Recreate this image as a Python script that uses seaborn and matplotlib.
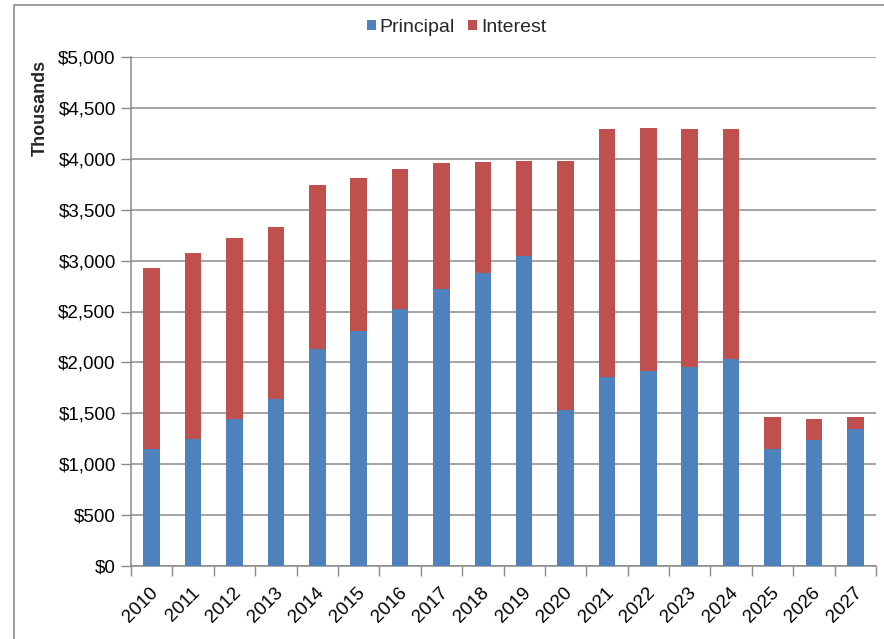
import matplotlib
matplotlib.use("Agg")
import matplotlib.pyplot as plt
from matplotlib.patches import Rectangle, Patch
from matplotlib.ticker import FuncFormatter, FixedLocator
from matplotlib.transforms import ScaledTranslation
import seaborn as sns
import pandas as pd

# Annual debt service, in thousands of dollars
years = ["2010", "2011", "2012", "2013", "2014", "2015", "2016", "2017", "2018",
         "2019", "2020", "2021", "2022", "2023", "2024", "2025", "2026", "2027"]
principal = [1146, 1244, 1441, 1640, 2132, 2308, 2525, 2721, 2878,
             3048, 1536, 1857, 1912, 1958, 2033, 1146, 1241, 1346]
interest = [1778, 1831, 1778, 1690, 1607, 1500, 1375, 1238, 1091,
            930, 2442, 2436, 2391, 2335, 2260, 314, 206, 114]

blue = "#4F81BD"
red = "#C0504D"
grid_gray = "#8A8A8A"

df = pd.DataFrame({"year": years, "principal": principal, "interest": interest})
df["total"] = df["principal"] + df["interest"]

sns.set_theme(style="white")
plt.rcParams["font.family"] = ["Liberation Sans", "DejaVu Sans"]

fig = plt.figure(figsize=(8.84, 6.39), dpi=100)
ax = fig.add_axes([131 / 884, 73 / 639, 745 / 884, 509 / 639])

# Stacked bars: full height in red, principal drawn over it in blue
sns.barplot(data=df, x="year", y="total", color=red, width=0.4, saturation=1,
            ax=ax, zorder=3, linewidth=0)
sns.barplot(data=df, x="year", y="principal", color=blue, width=0.4, saturation=1,
            ax=ax, zorder=4, linewidth=0)

ax.set_xlim(-0.5, len(years) - 0.5)
ax.set_ylim(0, 5000)
ax.set_yticks(range(0, 5001, 500))
ax.yaxis.set_major_formatter(FuncFormatter(lambda v, p: f"${v:,.0f}"))
ax.yaxis.grid(True, color=grid_gray, linewidth=1.1, zorder=0)
ax.set_axisbelow(True)

for side in ["top", "right"]:
    ax.spines[side].set_visible(False)
for side in ["left", "bottom"]:
    ax.spines[side].set_color(grid_gray)
    ax.spines[side].set_linewidth(1.1)

ax.tick_params(axis="y", which="major", left=True, length=7, width=1, color=grid_gray,
               labelsize=13.5, pad=4, labelcolor="black")
ax.tick_params(axis="x", which="major", bottom=False, length=0, labelsize=13.5,
               pad=13, labelcolor="black")
# category separators below the axis
ax.xaxis.set_minor_locator(FixedLocator([i - 0.5 for i in range(len(years) + 1)]))
ax.tick_params(axis="x", which="minor", bottom=True, length=7, width=1, color=grid_gray)

shift = ScaledTranslation(-2 / 100, 0, fig.dpi_scale_trans)
for lbl in ax.get_xticklabels():
    lbl.set_rotation(45)
    lbl.set_ha("right")
    lbl.set_rotation_mode("anchor")
    lbl.set_transform(lbl.get_transform() + shift)

ax.set_xlabel("")
ax.set_ylabel("Thousands", fontsize=13, fontweight="bold", loc="top")
ax.yaxis.set_label_coords(-0.111, 0.994)

handles = [Patch(facecolor=blue, edgecolor="none"), Patch(facecolor=red, edgecolor="none")]
fig.legend(handles, ["Principal", "Interest"], loc="center", ncol=2,
           bbox_to_anchor=(0.5164, 0.957), frameon=False, fontsize=14,
           handlelength=0.45, handleheight=0.45, handletextpad=0.2, columnspacing=0.7)

# outer chart border
fig.patches.append(Rectangle((14 / 884, -0.05), 1.2, 1 - 5 / 639 + 0.05,
                             transform=fig.transFigure, fill=False,
                             edgecolor="#8C8C8C", linewidth=1.2))

fig.savefig("out.png", dpi=100)
